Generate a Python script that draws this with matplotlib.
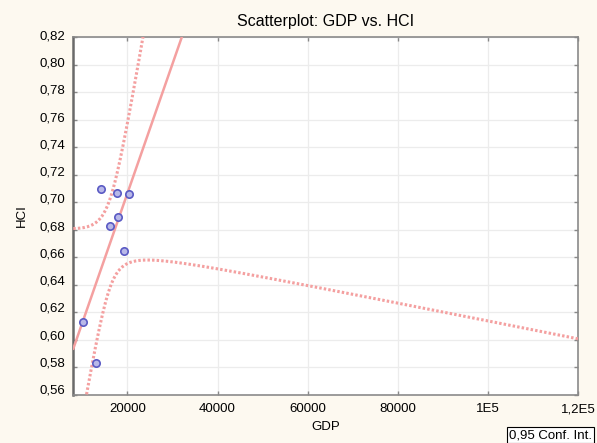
import numpy as np
import matplotlib
matplotlib.use('Agg')
import matplotlib.pyplot as plt
from matplotlib.transforms import ScaledTranslation

plt.rcParams['font.family'] = ['Liberation Sans', 'DejaVu Sans']

gdp = [14253, 17756, 20284, 17845, 16137, 19175, 10106, 12967]
hci = [0.7098, 0.7066, 0.7058, 0.6896, 0.6826, 0.6649, 0.6128, 0.5835]

x_ticks = [20000, 40000, 60000, 80000, 100000, 120000]
x_ticklabels = ['20000', '40000', '60000', '80000', '1E5', '1,2E5']
y_ticks = [0.56, 0.58, 0.60, 0.62, 0.64, 0.66, 0.68, 0.70, 0.72, 0.74, 0.76, 0.78, 0.80, 0.82]
y_ticklabels = [f'{v:.2f}'.replace('.', ',') for v in y_ticks]

XMIN, XMAX = 8000, 120000
YMIN, YMAX = 0.56, 0.82

C_LINE = '#f4a0a0'
C_BG = '#fdf9f0'

# OLS fit + 95% confidence band for the mean
x = np.array(gdp, float)
y = np.array(hci, float)
n = len(x)
b, a = np.polyfit(x, y, 1)
resid = y - (a + b * x)
s = np.sqrt((resid ** 2).sum() / (n - 2))
sxx = ((x - x.mean()) ** 2).sum()
t = 2.4469  # t(0.975, df=6)
xs = np.linspace(XMIN, XMAX, 800)
fit = a + b * xs
hw = t * s * np.sqrt(1 / n + (xs - x.mean()) ** 2 / sxx)

fig = plt.figure(figsize=(5.97, 4.43), dpi=100, facecolor=C_BG)
ax = fig.add_axes([0.1228, 0.1084, 0.8454, 0.8081])
ax.set_facecolor('white')

ax.plot(xs, fit, color=C_LINE, lw=1.8, zorder=3)
for band in (fit + hw, fit - hw):
    ax.plot(xs, band, color=C_LINE, lw=2.2, ls=(0, (0.8, 0.7)),
            dash_capstyle='butt', zorder=3)
ax.scatter(gdp, hci, s=28, facecolor='#b8b8e8', edgecolor='#5a5ac4',
           linewidth=1.2, zorder=4)

ax.set_xlim(XMIN, XMAX)
ax.set_ylim(YMIN, YMAX)
ax.set_xticks(x_ticks)
ax.set_xticklabels(x_ticklabels)
ax.set_yticks(y_ticks)
ax.set_yticklabels(y_ticklabels)
ax.tick_params(direction='in', length=3, width=1, color='#888888',
               labelsize=9.5, top=True, right=True, pad=6)
# the original's y labels drift upward from their gridlines toward the bottom
for v, lab in zip(y_ticks, ax.get_yticklabels()):
    dy_px = 2 + 4 * (YMAX - v) / (YMAX - YMIN)
    lab.set_transform(lab.get_transform() + ScaledTranslation(0, dy_px / 100, fig.dpi_scale_trans))
ax.grid(True, color='#ececec', lw=0.9, zorder=0)
for side in ['top', 'right', 'bottom']:
    ax.spines[side].set_color('#8a8a8a')
    ax.spines[side].set_linewidth(1.2)
ax.spines['left'].set_color('#6a6a6a')
ax.spines['left'].set_linewidth(1.8)

ax.set_title('Scatterplot: GDP vs. HCI', fontsize=11.5, pad=8)
ax.set_xlabel('GDP', fontsize=9.5, labelpad=4)
ax.set_ylabel('HCI', fontsize=9.5, labelpad=8)

fig.text(0.992, 0.004, '0,95 Conf. Int.', fontsize=9.5, ha='right', va='bottom',
         bbox=dict(boxstyle='square,pad=0.15', facecolor='white',
                   edgecolor='black', lw=0.8))

fig.savefig('out.png', dpi=100, facecolor=C_BG)
